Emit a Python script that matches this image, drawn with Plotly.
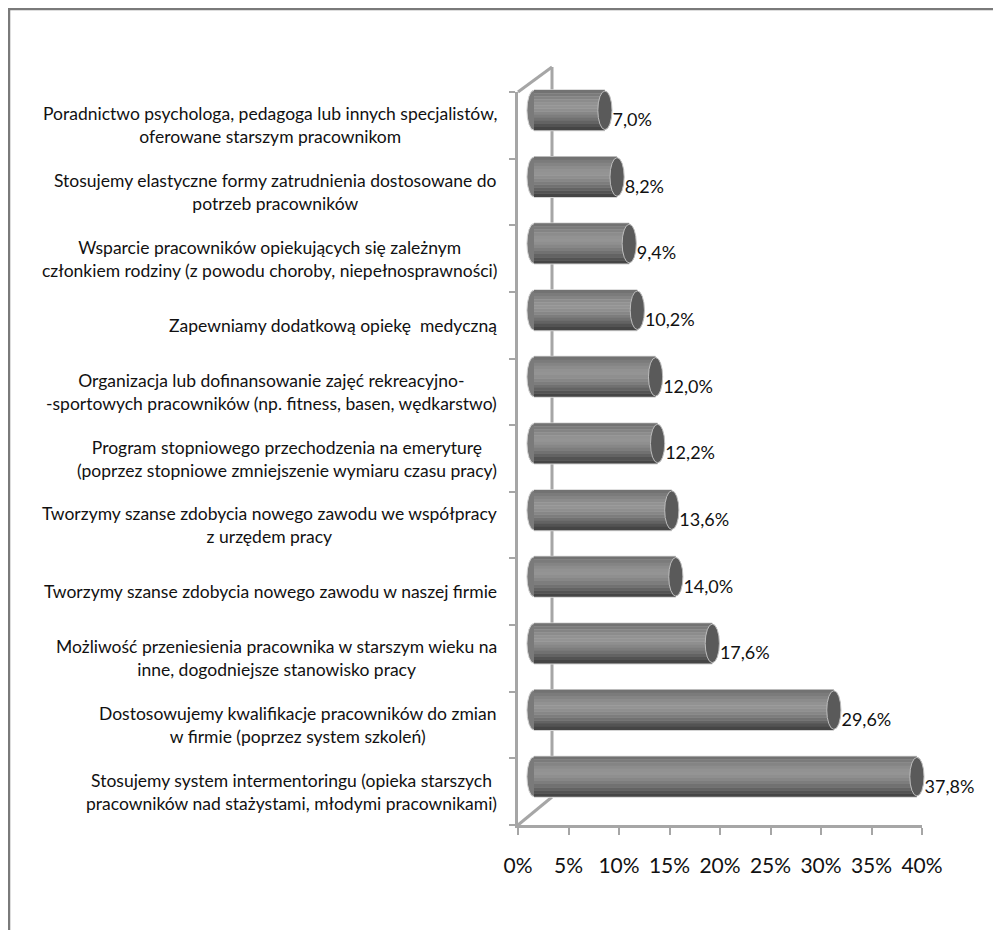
import plotly.graph_objects as go

# ---------------- data (top-to-bottom as shown) ----------------
categories = [
    "Poradnictwo psychologa, pedagoga lub innych specjalistów,<br>oferowane starszym pracownikom",
    "Stosujemy elastyczne formy zatrudnienia dostosowane do<br>potrzeb pracowników",
    "Wsparcie pracowników opiekujących się zależnym<br>członkiem rodziny (z powodu choroby, niepełnosprawności)",
    "Zapewniamy dodatkową opiekę  medyczną",
    "Organizacja lub dofinansowanie zajęć rekreacyjno-<br>-sportowych pracowników (np. fitness, basen, wędkarstwo)",
    "Program stopniowego przechodzenia na emeryturę<br>(poprzez stopniowe zmniejszenie wymiaru czasu pracy)",
    "Tworzymy szanse zdobycia nowego zawodu we współpracy<br>z urzędem pracy",
    "Tworzymy szanse zdobycia nowego zawodu w naszej firmie",
    "Możliwość przeniesienia pracownika w starszym wieku na<br>inne, dogodniejsze stanowisko pracy",
    "Dostosowujemy kwalifikacje pracowników do zmian<br>w firmie (poprzez system szkoleń)",
    "Stosujemy system intermentoringu (opieka starszych<br>pracowników nad stażystami, młodymi pracownikami)",
]
values = [7.0, 8.2, 9.4, 10.2, 12.0, 12.2, 13.6, 14.0, 17.6, 29.6, 37.8]
x_ticks = [0, 5, 10, 15, 20, 25, 30, 35, 40]
x_tick_labels = ["0%", "5%", "10%", "15%", "20%", "25%", "30%", "35%", "40%"]

n = len(values)
ypos = [n - 1 - i for i in range(n)]
value_labels = [f"{v:.1f}".replace(".", ",") + "%" for v in values]

# ---------------- geometry (screen pixels; page body has an 8px margin) ----------------
BODY = 8
W, H = 1001 - BODY, 930 - BODY
SL, SR, ST, SB = 518, 960, 77, 825  # plot area in screen pixels
PXW = 10.13  # pixels per percent point


def px(x):
    return (x - SL) / (SR - SL)


def py(y):
    return (SB - y) / (SB - ST)


FONT = "Lato"
fig = go.Figure()

# ---------------- cylinder bars (gradient bands) ----------------
half = 0.30
fig.add_trace(go.Bar(x=values, y=ypos, orientation="h", width=2 * half + 0.03,
                     offset=-half - 0.015, marker=dict(color="#d4d4d4", line=dict(width=0)),
                     xaxis="x2", yaxis="y2", hoverinfo="skip", showlegend=False))
band_colors = ["#727272", "#7b7b7b", "#848484", "#8c8c8c", "#929292", "#949494",
               "#8f8f8f", "#878787", "#7d7d7d", "#717171", "#636363", "#535353", "#454545"]
nb = len(band_colors)
bw = 2 * half / nb
for k, c in enumerate(band_colors):
    off = half - (k + 1) * bw
    fig.add_trace(go.Bar(x=values, y=ypos, orientation="h", width=bw + 0.004, offset=off,
                         marker=dict(color=c, line=dict(width=0)),
                         xaxis="x2", yaxis="y2", hoverinfo="skip", showlegend=False))

# value labels
fig.add_trace(go.Scatter(x=[v + 0.75 for v in values], y=[y - 0.17 for y in ypos],
                         text=value_labels, mode="text", textposition="middle right",
                         textfont=dict(family=FONT, size=18, color="#111111"),
                         xaxis="x2", yaxis="y2", hoverinfo="skip", showlegend=False,
                         cliponaxis=False))

shapes = []
for v, y in zip(values, ypos):
    shapes.append(dict(type="circle", xref="x2", yref="y2", x0=-0.7, x1=0.7,
                       y0=y - half, y1=y + half, fillcolor="#7a7a7a",
                       line=dict(color="#d4d4d4", width=1), layer="below"))
    shapes.append(dict(type="circle", xref="x2", yref="y2", x0=v - 0.7, x1=v + 0.7,
                       y0=y - half + 0.01, y1=y + half - 0.01, fillcolor="#5a5a5a",
                       line=dict(color="#bdbdbd", width=1), layer="above"))

WALL = "#a6a6a6"
shapes += [
    dict(type="line", xref="paper", yref="paper", x0=px(552), y0=py(67), x1=px(552), y1=py(797),
         line=dict(color=WALL, width=3), layer="below"),
    dict(type="line", xref="paper", yref="paper", x0=px(518), y0=py(92), x1=px(552), y1=py(67),
         line=dict(color=WALL, width=3), layer="below"),
    dict(type="line", xref="paper", yref="paper", x0=px(518), y0=py(825), x1=px(552), y1=py(797),
         line=dict(color=WALL, width=3), layer="below"),
    # outer frame (left and top edges)
    dict(type="line", xref="paper", yref="paper", x0=px(9), y0=py(9), x1=px(9), y1=py(940),
         line=dict(color="#7a7a7a", width=2.5)),
    dict(type="line", xref="paper", yref="paper", x0=px(8), y0=py(9), x1=px(1010), y1=py(9),
         line=dict(color="#7a7a7a", width=2.5)),
]

annotations = []
for cat, y in zip(categories, ypos):
    annotations.append(dict(text=cat, x=px(499), xref="paper", y=y, yref="y",
                            xanchor="right", yanchor="middle", align="center",
                            showarrow=False, font=dict(family=FONT, size=17.5, color="#111111")))

front_w = (922 - SL) / (SR - SL)
front_h = (825 - 92) / (SB - ST)
shift = 15 / (SB - ST)
x2_range = [-16 / PXW, (SR - SL - 16) / PXW]

fig.update_layout(
    width=W, height=H,
    margin=dict(l=SL - BODY, r=W - (SR - BODY), t=ST - BODY, b=H - (SB - BODY), pad=0),
    paper_bgcolor="white", plot_bgcolor="rgba(0,0,0,0)",
    barmode="overlay", showlegend=False,
    shapes=shapes, annotations=annotations,
    xaxis=dict(domain=[0, front_w], range=[0, 40], tickvals=x_ticks, ticktext=x_tick_labels,
               showline=True, linecolor=WALL, linewidth=3, ticks="outside", ticklen=7,
               tickcolor=WALL, tickwidth=1.5, showgrid=False, zeroline=False,
               ticklabelstandoff=13, tickfont=dict(family=FONT, size=21, color="#111111"),
               fixedrange=True),
    yaxis=dict(domain=[0, front_h], range=[-0.5, n - 0.5],
               tickvals=[k - 0.5 for k in range(n + 1)], showticklabels=False,
               showline=True, linecolor=WALL, linewidth=3, ticks="outside", ticklen=6,
               tickcolor=WALL, tickwidth=2, showgrid=False, zeroline=False, fixedrange=True),
    xaxis2=dict(domain=[0, 1], range=x2_range, anchor="y2", visible=False, fixedrange=True),
    yaxis2=dict(domain=[shift, 1], range=[-0.5, n - 0.5], anchor="x2", visible=False,
                fixedrange=True),
)

fig.write_html("out.html")
